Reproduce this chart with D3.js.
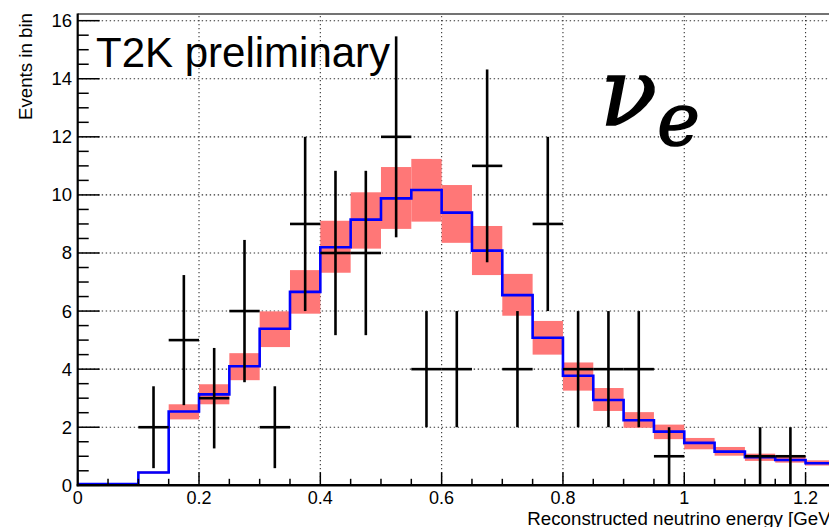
<!DOCTYPE html>
<html>
<head>
<meta charset="utf-8">
<script src="https://cdn.jsdelivr.net/npm/d3@7"></script>
<style>
  html, body { margin: 0; padding: 0; background: #fff; }
  svg { display: block; }
  text { font-family: "Liberation Sans", Arial, Helvetica, sans-serif; fill: #000; }
</style>
</head>
<body>
<svg id="chart" width="829" height="527"></svg>
<script>
// Bin edges of the reconstructed-energy histogram (GeV)
const binEdges = [0, 0.05, 0.1, 0.15, 0.2, 0.25, 0.3, 0.35, 0.4, 0.45, 0.5, 0.55, 0.6,
                  0.65, 0.7, 0.75, 0.8, 0.85, 0.9, 0.95, 1.0, 1.05, 1.1, 1.15, 1.2, 1.25];

// Best-fit prediction per bin
const predicted = [0.04, 0.04, 0.44, 2.54, 3.13, 4.10, 5.39, 6.66, 8.20, 9.15, 9.88, 10.17,
                   9.39, 8.08, 6.55, 5.08, 3.77, 2.94, 2.24, 1.85, 1.46, 1.16, 0.97, 0.87, 0.76];

// Systematic uncertainty band per bin
const bandLow  = [0.02, 0.02, 0.40, 2.27, 2.79, 3.62, 4.76, 5.91, 7.32, 8.15, 8.83, 9.08,
                  8.35, 7.24, 5.84, 4.50, 3.26, 2.56, 1.98, 1.59, 1.24, 1.02, 0.84, 0.78, 0.68];
const bandHigh = [0.06, 0.06, 0.48, 2.79, 3.48, 4.55, 5.99, 7.41, 9.11, 10.09, 10.96, 11.24,
                  10.34, 8.93, 7.28, 5.66, 4.23, 3.35, 2.52, 2.09, 1.63, 1.32, 1.09, 0.99, 0.86];

// Observed events and their statistical errors
const observed = [0, 0, 2, 5, 3, 6, 2, 9, 8, 8, 12, 4, 4, 11, 4, 9, 4, 4, 4, 1, 0, 0, 1, 1, 0];
const obsError = [0, 0, 1.41, 2.24, 1.73, 2.45, 1.41, 3.0, 2.83, 2.83, 3.46, 2.0, 2.0,
                  3.32, 2.0, 3.0, 2.0, 2.0, 2.0, 1.0, 0, 0, 1.0, 1.0, 0];

// Axis ticks
const xMajorTicks = [0, 0.2, 0.4, 0.6, 0.8, 1.0, 1.2];
const xTickLabels = ["0", "0.2", "0.4", "0.6", "0.8", "1", "1.2"];
const yMajorTicks = [0, 2, 4, 6, 8, 10, 12, 14, 16];

const svg = d3.select("#chart");

const x = d3.scaleLinear().domain([0, 1.25]).range([77.7, 835.9]);
const y = d3.scaleLinear().domain([0, 16.23]).range([485.3, 14]);

const x0 = x(0), x1 = x(1.25), yBottom = y(0), yTop = y(16.23);

// Dotted grid
const grid = svg.append("g")
  .attr("stroke", "#333").attr("stroke-width", 1.1).attr("stroke-dasharray", "1.4,2.6");
grid.selectAll("line.gx").data(xMajorTicks.filter(d => d > 0)).join("line")
  .attr("x1", d => x(d)).attr("x2", d => x(d)).attr("y1", yBottom).attr("y2", yTop);
grid.selectAll("line.gy").data(yMajorTicks.filter(d => d > 0)).join("line")
  .attr("x1", x0).attr("x2", x1).attr("y1", d => y(d)).attr("y2", d => y(d));

const bins = predicted.map((p, i) => ({
  lo: binEdges[i], hi: binEdges[i + 1], pred: p,
  bLo: bandLow[i], bHi: bandHigh[i], obs: observed[i], err: obsError[i]
}));

// Uncertainty band
svg.append("g").selectAll("rect").data(bins).join("rect")
  .attr("x", d => x(d.lo)).attr("width", d => x(d.hi) - x(d.lo))
  .attr("y", d => y(d.bHi)).attr("height", d => y(d.bLo) - y(d.bHi))
  .attr("fill", "#ff7777");

// Prediction histogram (step line)
const stepPts = [];
bins.forEach(d => { stepPts.push([d.lo, d.pred]); stepPts.push([d.hi, d.pred]); });
svg.append("path")
  .attr("d", d3.line().x(p => x(p[0])).y(p => y(p[1]))(stepPts))
  .attr("fill", "none").attr("stroke", "#0000ff").attr("stroke-width", 2.6)
  .attr("stroke-linejoin", "miter");

// Observed data crosses
const dataG = svg.append("g").attr("stroke", "#000").attr("stroke-width", 2.6);
const filled = bins.filter(d => d.obs > 0);
dataG.selectAll("line.h").data(filled).join("line")
  .attr("x1", d => x(d.lo)).attr("x2", d => x(d.hi))
  .attr("y1", d => y(d.obs)).attr("y2", d => y(d.obs));
dataG.selectAll("line.v").data(filled).join("line")
  .attr("x1", d => x((d.lo + d.hi) / 2)).attr("x2", d => x((d.lo + d.hi) / 2))
  .attr("y1", d => y(d.obs - d.err)).attr("y2", d => y(d.obs + d.err));

// Frame top edge
svg.append("line").attr("x1", x0).attr("x2", x1).attr("y1", yTop).attr("y2", yTop)
  .attr("stroke", "#444").attr("stroke-width", 1.5);

// Y axis with inward ticks
const yAxis = svg.append("g");
const yMinor = d3.range(0, 16.01, 0.5).filter(v => yMajorTicks.indexOf(v) < 0);
yAxis.selectAll("line.mj").data(yMajorTicks).join("line")
  .attr("x1", x0).attr("x2", x0 + 22).attr("y1", d => y(d)).attr("y2", d => y(d))
  .attr("stroke", "#000").attr("stroke-width", 1.5);
yAxis.selectAll("line.mn").data(yMinor).join("line")
  .attr("x1", x0).attr("x2", x0 + 11).attr("y1", d => y(d)).attr("y2", d => y(d))
  .attr("stroke", "#000").attr("stroke-width", 1.5);
yAxis.selectAll("text").data(yMajorTicks).join("text")
  .attr("x", 72).attr("y", d => y(d) + 6.5).attr("text-anchor", "end")
  .attr("font-size", 18.5).text(d => d);
yAxis.append("line").attr("x1", x0).attr("x2", x0).attr("y1", yTop - 0.5).attr("y2", yBottom + 1)
  .attr("stroke", "#000").attr("stroke-width", 2.2);

// X axis with inward ticks
const xAxis = svg.append("g");
const xMinor = d3.range(0.05, 1.26, 0.05).filter(v => xMajorTicks.every(m => Math.abs(m - v) > 1e-6));
xAxis.selectAll("line.mj").data(xMajorTicks).join("line")
  .attr("x1", d => x(d)).attr("x2", d => x(d)).attr("y1", yBottom).attr("y2", yBottom - 13)
  .attr("stroke", "#000").attr("stroke-width", 1.5);
xAxis.selectAll("line.mn").data(xMinor).join("line")
  .attr("x1", d => x(d)).attr("x2", d => x(d)).attr("y1", yBottom).attr("y2", yBottom - 6.5)
  .attr("stroke", "#000").attr("stroke-width", 1.5);
xAxis.selectAll("text").data(xMajorTicks).join("text")
  .attr("x", d => x(d)).attr("y", 503.5).attr("text-anchor", "middle")
  .attr("font-size", 18).text((d, i) => xTickLabels[i]);
xAxis.append("line").attr("x1", x0 - 1).attr("x2", x1).attr("y1", yBottom).attr("y2", yBottom)
  .attr("stroke", "#000").attr("stroke-width", 2.4);

// Axis titles
svg.append("text").attr("x", x1).attr("y", 524.5).attr("text-anchor", "end")
  .attr("font-size", 18.7).text("Reconstructed neutrino energy [GeV]");
svg.append("text").attr("transform", "translate(31.5," + (yTop - 1) + ") rotate(-90)")
  .attr("text-anchor", "end").attr("font-size", 18.7).text("Events in bin");

// Labels inside the frame
svg.append("text").attr("x", 96).attr("y", 67).attr("font-size", 42).text("T2K preliminary");
const nu = svg.append("text").attr("x", 600).attr("y", 125)
  .style("font-family", "'DejaVu Serif', serif").style("font-style", "italic")
  .attr("stroke", "#000").attr("stroke-width", 1.6);
nu.append("tspan").attr("font-size", 94).text("ν");
nu.append("tspan").attr("font-size", 72).attr("dy", 20).attr("dx", 0).text("e");
</script>
</body>
</html>
